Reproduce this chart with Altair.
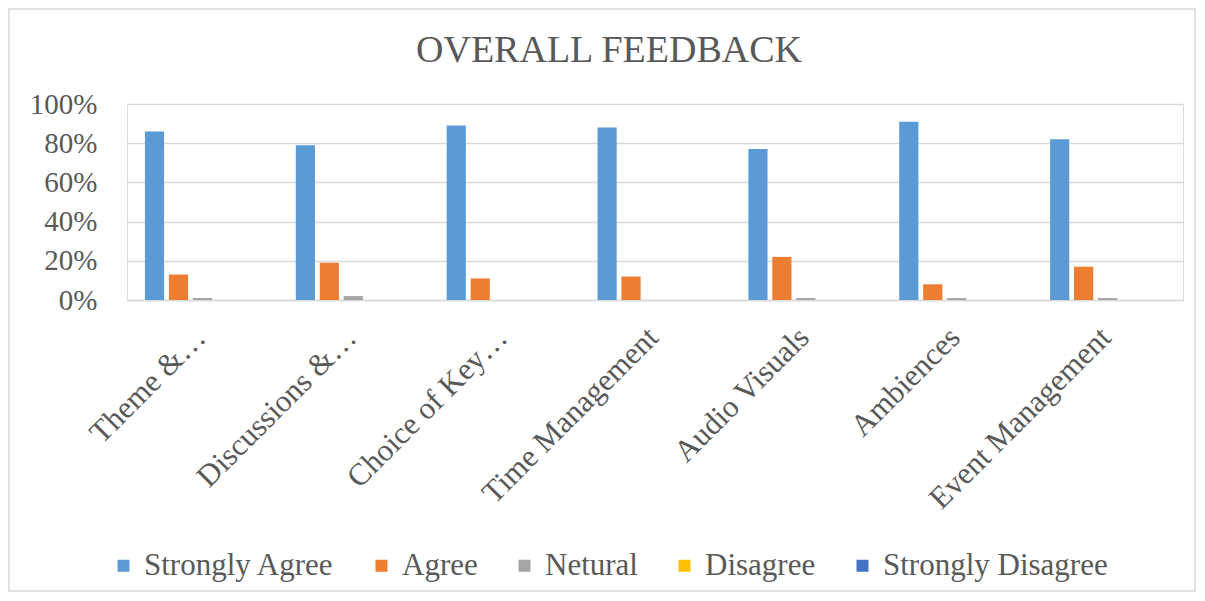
import altair as alt
import pandas as pd

categories = ["Theme &…", "Discussions &…", "Choice of Key…", "Time Management",
              "Audio Visuals", "Ambiences", "Event Management"]
series = ["Strongly Agree", "Agree", "Netural", "Disagree", "Strongly Disagree"]
strongly_agree = [86, 79, 89, 88, 77, 91, 82]
agree = [13, 19, 11, 12, 22, 8, 17]
netural = [1, 2, 0, 0, 1, 1, 1]
disagree = [0, 0, 0, 0, 0, 0, 0]
strongly_disagree = [0, 0, 0, 0, 0, 0, 0]
colors = ["#5b9bd5", "#ed7d31", "#a5a5a5", "#ffc000", "#4472c4"]
y_ticks = [0, 0.2, 0.4, 0.6, 0.8, 1.0]
title_text = "OVERALL FEEDBACK"

rows = []
for s, vals in zip(series, [strongly_agree, agree, netural, disagree, strongly_disagree]):
    for c, v in zip(categories, vals):
        rows.append({"category": c, "series": s, "value": v / 100})
df = pd.DataFrame(rows)

FONT = "Liberation Serif"
TXT = "#595959"
GRID = "#d9d9d9"

bars = alt.Chart(df).mark_bar().encode(
    x=alt.X("category:N", sort=categories, title=None,
            scale=alt.Scale(paddingInner=0.238, paddingOuter=0.119),
            axis=alt.Axis(labelAngle=-45, labelAlign="right", labelBaseline="top",
                          labelFontSize=31, labelFont=FONT, labelColor=TXT,
                          labelPadding=22, labelOffset=-12, labelLimit=0, ticks=False,
                          domain=True, domainColor=GRID, domainWidth=1.5)),
    xOffset=alt.XOffset("series:N", sort=series,
                        scale=alt.Scale(paddingInner=0.2, paddingOuter=0)),
    y=alt.Y("value:Q", title=None,
            scale=alt.Scale(domain=[0, 1], nice=False),
            axis=alt.Axis(values=y_ticks, format=".0%", labelFontSize=29,
                          labelFont=FONT, labelColor=TXT, labelPadding=30,
                          ticks=False, domain=False, gridColor=GRID, gridWidth=1.5)),
    color=alt.Color("series:N", sort=series,
                    scale=alt.Scale(domain=series, range=colors),
                    legend=alt.Legend(title=None, orient="none", direction="horizontal",
                                      legendX=-19, legendY=446,
                                      symbolType="square", symbolSize=144,
                                      symbolStrokeWidth=0,
                                      labelFontSize=31, labelFont=FONT, labelColor=TXT,
                                      labelOffset=5, columnPadding=31, labelLimit=0)),
)

frame = alt.Chart(pd.DataFrame({"a": [0]})).mark_rect(
    fill="transparent", stroke=GRID, strokeWidth=1.5
).encode(x=alt.value(-118), x2=alt.value(1068), y=alt.value(-95), y2=alt.value(487))

title = alt.Chart(pd.DataFrame({"t": [title_text]})).mark_text(
    font=FONT, fontSize=38, color=TXT, align="center", baseline="alphabetic"
).encode(text="t:N", x=alt.value(482), y=alt.value(-42))

chart = alt.layer(frame, bars, title).properties(
    width=1056, height=196,
    autosize=alt.AutoSizeParams(type="none"),
    padding={"left": 119, "top": 96, "right": 14, "bottom": 293},
).configure_view(stroke=None).configure(background="white")

chart.save("out.html", embed_options={"renderer": "svg", "actions": False})
